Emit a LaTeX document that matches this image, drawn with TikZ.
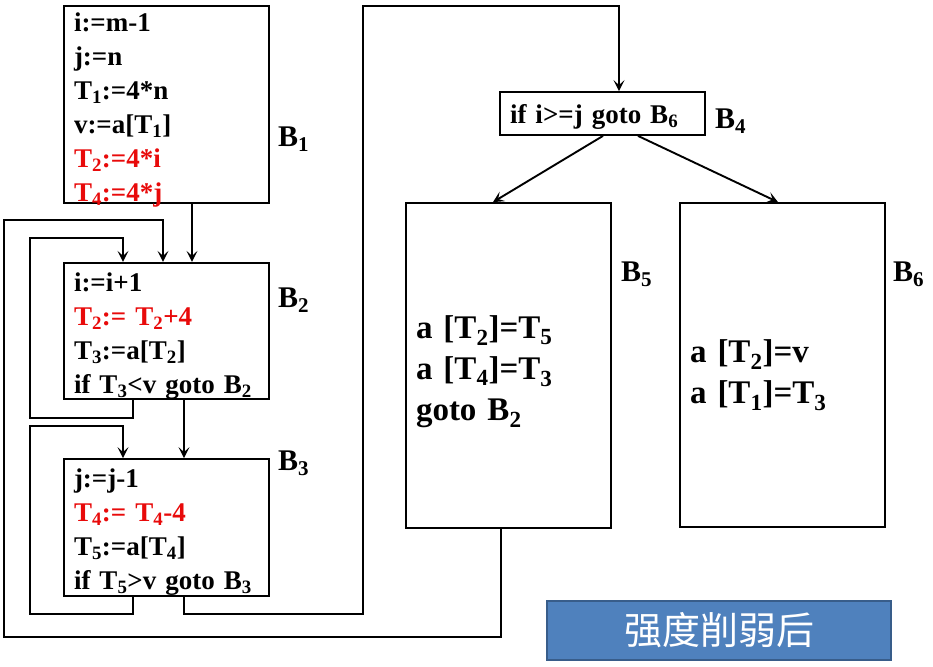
\documentclass[tikz,border=0pt]{standalone}
\usepackage{fontspec}
\setmainfont{Liberation Serif}
\newfontfamily\cjk{Noto Sans CJK SC}
\usetikzlibrary{arrows.meta,positioning}
\definecolor{hl}{RGB}{232,10,10}
\definecolor{tagblue}{RGB}{79,129,189}
\definecolor{tagedge}{RGB}{56,93,138}
\newcommand\subs[1]{\textsubscript{#1}}
\newcommand\lift[1]{\rule{0pt}{#1}}
\tikzset{
  blk/.style={draw, line width=1.8pt, rectangle, align=left, inner xsep=10pt, inner ysep=0pt,
    text width=185pt, font=\bfseries\fontsize{27}{34}\selectfont},
  bigblk/.style={blk, font=\bfseries\fontsize{33}{41}\selectfont},
  lbl/.style={anchor=west, inner sep=0pt, font=\bfseries\fontsize{30}{36}\selectfont},
  flow/.style={line width=1.9pt, -{Stealth[length=11pt,width=11pt,inset=5pt]}},
}
\begin{document}
\begin{tikzpicture}[x=1pt,y=-1pt]
      \useasboundingbox (0,0) rectangle (933,666);
      % basic blocks
      \node[blk, minimum height=197pt, text depth=164pt] (b1) at (166.5,104.5)
        {i:=m-1\\ j:=n\\ T\subs{1}:=4*n\\ v:=a[T\subs{1}]\\
         {\color{hl}T\subs{2}:=4*i}\\ {\color{hl}T\subs{4}:=4*j}};
      \node[blk, minimum height=136pt] (b2) at (166.5,331)
        {\lift{28.5pt}i:=i+1\\ {\color{hl}T\subs{2}:= T\subs{2}+4}\\ T\subs{3}:=a[T\subs{2}]\\ if T\subs{3}<v goto B\subs{2}};
      \node[blk, minimum height=137pt] (b3) at (166.5,527.5)
        {\lift{28.5pt}j:=j-1\\ {\color{hl}T\subs{4}:= T\subs{4}-4}\\ T\subs{5}:=a[T\subs{4}]\\ if T\subs{5}>v goto B\subs{3}};
      \node[blk, minimum height=43pt] (b4) at (602.5,113.5) {\lift{26.5pt}if i>=j goto B\subs{6}};
      \node[bigblk, minimum height=325pt] (b5) at (508.5,365.5)
        {\lift{35pt}a [T\subs{2}]=T\subs{5}\\ a [T\subs{4}]=T\subs{3}\\ goto B\subs{2}};
      \node[bigblk, minimum height=324pt] (b6) at (782.5,365)
        {\lift{43pt}a [T\subs{2}]=v\\ a [T\subs{1}]=T\subs{3}};
      % block names
      \node[lbl] (l1) at (278,139) {B\subs{1}};
      \node[lbl] (l2) at (278,300) {B\subs{2}};
      \node[lbl] (l3) at (278,463) {B\subs{3}};
      \node[lbl] (l4) at (715,121) {B\subs{4}};
      \node[lbl] (l5) at (621,274) {B\subs{5}};
      \node[lbl] (l6) at (893,274) {B\subs{6}};
      % edges
      \draw[flow] ([xshift=25.5]b1.south) -- ([xshift=25.5]b2.north);
      \draw[flow] ([xshift=-33.5]b2.south) -- ++(0,18) -| (30,238) -| ([xshift=-43.5]b2.north);
      \draw[flow] ([xshift=17.5]b2.south) -- ([xshift=17.5]b3.north);
      \draw[flow] ([xshift=-33.5]b3.south) -- ++(0,17) -| (30,426) -| ([xshift=-43.5]b3.north);
      \draw[flow] ([xshift=17.5]b3.south) -- ++(0,17) -| (363,6) -| ([xshift=16.5]b4.north);
      \draw[flow] ([xshift=-7.5]b5.south) -- ++(0,108) -| (4,220) -| ([xshift=-3.5]b2.north);
      \draw[flow] ([xshift=0.5]b4.south) -- ([xshift=-15.5]b5.north);
      \draw[flow] ([xshift=35.5]b4.south) -- ([xshift=-4.5]b6.north);
      % caption
      \node[fill=tagblue, draw=tagedge, line width=1.5pt, minimum width=344pt, minimum height=59pt,
        text=white, font=\cjk\fontsize{38}{40}\selectfont] (tag) at (719,630.5) {强度削弱后};
\end{tikzpicture}
\end{document}
